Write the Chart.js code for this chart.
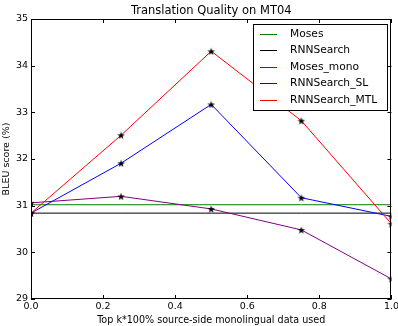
<!DOCTYPE html>
<html>
<head>
<meta charset="utf-8">
<script src="https://cdn.jsdelivr.net/npm/chart.js@4/dist/chart.umd.min.js"></script>
<style>
  html, body { margin: 0; padding: 0; background: #ffffff; overflow: hidden; width: 398px; height: 326px; }
  #wrap { position: absolute; left: 0; top: 0; }
</style>
</head>
<body>
<div id="wrap"><canvas id="c" width="401" height="326"></canvas></div>
<script>
// ---- data ----
const xValues = [0, 0.25, 0.5, 0.75, 1.0];
const seriesNames = ["Moses", "RNNSearch", "Moses_mono", "RNNSearch_SL", "RNNSearch_MTL"];
const moses = [31.02, 31.02, 31.02, 31.02, 31.02];
const rnnSearch = [30.84, 30.84, 30.84, 30.84, 30.84];
const mosesMono = [31.06, 31.20, 30.93, 30.48, 29.43];
const rnnSearchSL = [30.84, 31.91, 33.17, 31.17, 30.77];
const rnnSearchMTL = [30.84, 32.51, 34.31, 32.82, 30.61];
const titleText = "Translation Quality on MT04";
const xTitle = "Top k*100% source-side monolingual data used";
const yTitle = "BLEU score (%)";

const FONT = "'DejaVu Sans', 'Liberation Sans', sans-serif";

// filled 5-point star marker (matplotlib '*')
function makeStar(size, color) {
  const cv = document.createElement('canvas');
  cv.width = size; cv.height = size;
  const g = cv.getContext('2d');
  const cx = size / 2, cy = size / 2 + 0.5, R = size / 2, r = R * 0.4;
  g.beginPath();
  for (let i = 0; i < 10; i++) {
    const rad = (i % 2 === 0) ? R : r;
    const a = -Math.PI / 2 + i * Math.PI / 5;
    const px = cx + rad * Math.cos(a), py = cy + rad * Math.sin(a);
    if (i === 0) g.moveTo(px, py); else g.lineTo(px, py);
  }
  g.closePath();
  g.fillStyle = color; g.fill();
  return cv;
}
const star = makeStar(8, '#000000');

function pts(arr) { return arr.map((v, i) => ({ x: xValues[i], y: v })); }

const colors = ['#008000', '#000000', '#800080', '#0000ff', '#ff0000'];
const seriesData = [moses, rnnSearch, mosesMono, rnnSearchSL, rnnSearchMTL];
const withMarkers = [false, false, true, true, true];

const datasets = seriesData.map((arr, i) => ({
  label: seriesNames[i],
  data: pts(arr),
  borderColor: colors[i],
  backgroundColor: colors[i],
  borderWidth: 1,
  pointStyle: withMarkers[i] ? star : false,
  pointRadius: withMarkers[i] ? 4 : 0,
  pointHoverRadius: withMarkers[i] ? 4 : 0,
  tension: 0,
  clip: 0,
  order: 5 - i
}));

// frame + inward ticks (classic matplotlib style), title over axes, legend
const framePlugin = {
  id: 'frame',
  afterDatasetsDraw(chart) {
    const { ctx, chartArea: a, scales } = chart;
    ctx.save();
    ctx.strokeStyle = '#000';
    ctx.lineWidth = 1;
    ctx.strokeRect(Math.round(a.left) + 0.5, Math.round(a.top) + 0.5,
                   Math.round(a.right - a.left) - 1, Math.round(a.bottom - a.top) - 1);
    const L = 4;
    ctx.beginPath();
    scales.x.ticks.forEach(t => {
      const px = Math.round(scales.x.getPixelForValue(t.value)) + 0.5;
      ctx.moveTo(px, a.bottom); ctx.lineTo(px, a.bottom - L);
      ctx.moveTo(px, a.top); ctx.lineTo(px, a.top + L);
    });
    scales.y.ticks.forEach(t => {
      const py = Math.round(scales.y.getPixelForValue(t.value)) + 0.5;
      ctx.moveTo(a.left, py); ctx.lineTo(a.left + L, py);
      ctx.moveTo(a.right, py); ctx.lineTo(a.right - L, py);
    });
    ctx.stroke();
    ctx.restore();
  },
  afterDraw(chart) {
    const { ctx, chartArea: a } = chart;
    ctx.save();
    // title centred over the axes
    ctx.fillStyle = '#000';
    ctx.font = "11.5px " + FONT;
    ctx.textAlign = 'center';
    ctx.textBaseline = 'middle';
    ctx.fillText(titleText, (a.left + a.right) / 2, 11);
    // legend box in upper right of the axes
    const boxL = 253, boxT = 24, boxR = 388, boxB = 111;
    ctx.fillStyle = '#fff';
    ctx.fillRect(boxL, boxT, boxR - boxL, boxB - boxT);
    ctx.strokeStyle = '#000';
    ctx.lineWidth = 1;
    ctx.strokeRect(boxL + 0.5, boxT + 0.5, boxR - boxL - 1, boxB - boxT - 1);
    ctx.font = "10.7px " + FONT;
    ctx.textBaseline = 'middle';
    ctx.textAlign = 'left';
    chart.data.datasets.forEach((ds, i) => {
      const y = 33.5 + i * 16.5;
      ctx.strokeStyle = ds.borderColor;
      ctx.beginPath();
      ctx.moveTo(260, Math.round(y) + 0.5); ctx.lineTo(277, Math.round(y) + 0.5);
      ctx.stroke();
      ctx.fillStyle = '#000';
      ctx.fillText(ds.label, 290, y + 0.5);
    });
    ctx.restore();
  }
};

new Chart(document.getElementById('c'), {
  type: 'line',
  data: { datasets },
  options: {
    responsive: false,
    animation: false,
    devicePixelRatio: 1,
    layout: { padding: { top: 19, left: 0, right: 0, bottom: 0 } },
    plugins: {
      legend: { display: false },
      tooltip: { enabled: false },
      title: { display: false }
    },
    scales: {
      x: {
        type: 'linear',
        min: 0, max: 1,
        ticks: {
          stepSize: 0.2,
          color: '#000',
          padding: 2,
          maxRotation: 0,
          font: { family: FONT, size: 9.5 },
          callback: v => Number(v).toFixed(1)
        },
        grid: { display: true, drawOnChartArea: false, drawTicks: false },
        border: { display: false },
        title: {
          display: true, text: xTitle, color: '#000',
          font: { family: FONT, size: 9.6 },
          padding: { top: 0, bottom: 0 }
        },
        afterFit: s => { s.height = 27; }
      },
      y: {
        type: 'linear',
        min: 29, max: 35,
        ticks: {
          stepSize: 1,
          color: '#000',
          padding: 3,
          font: { family: FONT, size: 9.5 }
        },
        grid: { display: true, drawOnChartArea: false, drawTicks: false },
        border: { display: false },
        title: {
          display: true, text: yTitle, color: '#000',
          font: { family: FONT, size: 9.5 },
          padding: { top: 1, bottom: 0 }
        },
        afterFit: s => { s.width = 31; }
      }
    }
  },
  plugins: [framePlugin]
});
</script>
</body>
</html>
